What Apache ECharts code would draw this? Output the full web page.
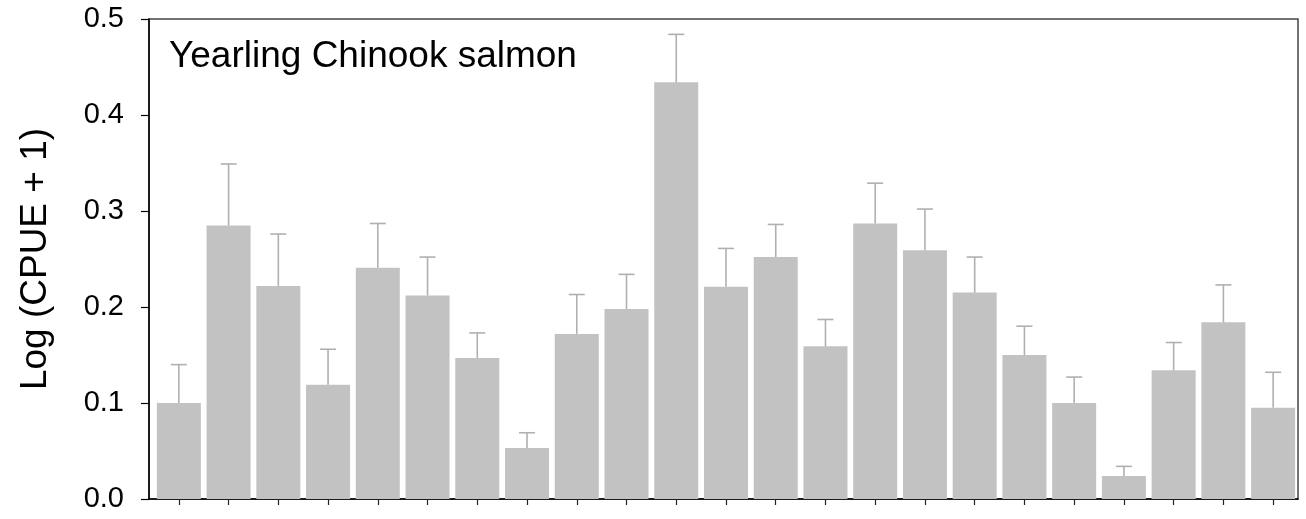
<!DOCTYPE html>
<html>
<head>
<meta charset="utf-8">
<script src="https://cdn.jsdelivr.net/npm/echarts@6/dist/echarts.min.js"></script>
<style>
  html, body { margin: 0; padding: 0; background: #fff; }
  #chart { width: 1306px; height: 519px; }
</style>
</head>
<body>
<div id="chart"></div>
<script>
// Sampling periods along the x axis (unlabelled ticks)
const periods = ['1','2','3','4','5','6','7','8','9','10','11','12','13','14','15','16','17','18','19','20','21','22','23'];
// Mean log (CPUE + 1) for each period
const meanCpue = [0.100, 0.285, 0.222, 0.119, 0.241, 0.212, 0.147, 0.053, 0.172, 0.198, 0.434, 0.221,
                  0.252, 0.159, 0.287, 0.259, 0.215, 0.150, 0.100, 0.024, 0.134, 0.184, 0.095];
// Standard error (upper bar only)
const seCpue = [0.040, 0.064, 0.054, 0.037, 0.046, 0.040, 0.026, 0.016, 0.041, 0.036, 0.050, 0.040,
                0.034, 0.028, 0.042, 0.043, 0.037, 0.030, 0.027, 0.010, 0.029, 0.039, 0.037];
const yTicks = [0, 0.1, 0.2, 0.3, 0.4, 0.5];
const titleText = 'Yearling Chinook salmon';
const yName = 'Log (CPUE + 1)';

const FONT = '"Liberation Sans", Arial, sans-serif';
const positions = periods.map((_, i) => i);

const chart = echarts.init(document.getElementById('chart'), null, { renderer: 'canvas' });

chart.setOption({
  animation: false,
  backgroundColor: '#ffffff',
  title: {
    text: titleText,
    left: 164,
    top: 33,
    textStyle: { fontFamily: FONT, fontSize: 37, fontWeight: 'normal', color: '#000' }
  },
  grid: {
    left: 149, right: 8, top: 19, bottom: 20,
    show: true, borderColor: '#444', borderWidth: 1.5, backgroundColor: 'transparent'
  },
  xAxis: {
    type: 'value',
    min: -0.6,
    max: 22.5,
    splitLine: { show: false },
    axisLine: { show: true, lineStyle: { color: '#000', width: 1.5 } },
    axisTick: { show: true, inside: false, length: 6, customValues: positions, lineStyle: { color: '#222', width: 1.2 } },
    axisLabel: { show: false }
  },
  yAxis: {
    type: 'value',
    min: 0,
    max: 0.5,
    interval: 0.1,
    name: yName,
    nameLocation: 'middle',
    nameRotate: 90,
    nameGap: 95,
    nameTextStyle: { fontFamily: FONT, fontSize: 37, color: '#000' },
    splitLine: { show: false },
    axisLine: { show: true, onZero: false, lineStyle: { color: '#000', width: 1.5 } },
    axisTick: { show: true, inside: false, length: 8, lineStyle: { color: '#000', width: 1.2 } },
    axisLabel: {
      margin: 25,
      fontFamily: FONT, fontSize: 29, color: '#000',
      formatter: v => v.toFixed(1),
      customValues: yTicks
    }
  },
  series: [
    {
      type: 'bar',
      data: meanCpue.map((v, i) => [positions[i], v]),
      barWidth: 44,
      itemStyle: { color: '#c2c2c2' },
      z: 2
    },
    {
      type: 'custom',
      data: meanCpue.map((v, i) => [positions[i], v, v + seCpue[i]]),
      renderItem: (params, api) => {
        const base = api.coord([api.value(0), api.value(1)]);
        const top = api.coord([api.value(0), api.value(2)]);
        const half = 8;
        const style = { stroke: '#b0b0b0', lineWidth: 1.6 };
        return {
          type: 'group',
          children: [
            { type: 'line', shape: { x1: base[0], y1: base[1], x2: top[0], y2: top[1] }, style },
            { type: 'line', shape: { x1: top[0] - half, y1: top[1], x2: top[0] + half, y2: top[1] }, style }
          ]
        };
      },
      z: 3
    }
  ]
});
</script>
</body>
</html>
